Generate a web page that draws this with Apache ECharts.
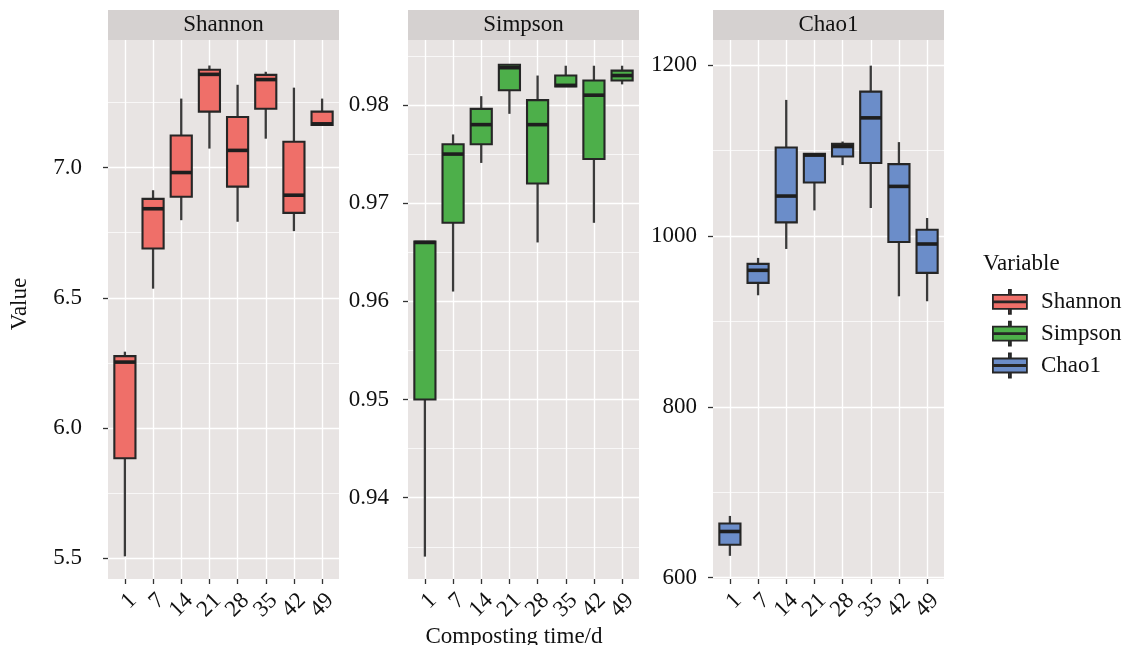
<!DOCTYPE html>
<html>
<head>
<meta charset="utf-8">
<script src="https://cdn.jsdelivr.net/npm/echarts@6/dist/echarts.min.js"></script>
<style>html,body{margin:0;padding:0;background:#fff}#c{width:1126px;height:645px}</style>
</head>
<body>
<div id="c"></div>
<script>
// ---- data ----
const categories = ['1', '7', '14', '21', '28', '35', '42', '49'];
const variables = ['Shannon', 'Simpson', 'Chao1'];
// each row: [lower whisker, Q1, median, Q3, upper whisker]
const shannon = [
  [5.507, 5.884, 6.253, 6.276, 6.293],
  [6.535, 6.689, 6.842, 6.880, 6.913],
  [6.798, 6.888, 6.981, 7.123, 7.265],
  [7.073, 7.215, 7.358, 7.376, 7.392],
  [6.792, 6.927, 7.066, 7.194, 7.318],
  [7.111, 7.226, 7.338, 7.356, 7.368],
  [6.756, 6.826, 6.894, 7.099, 7.307],
  [7.164, 7.164, 7.168, 7.215, 7.265]
];
const simpson = [
  [0.9340, 0.9500, 0.9660, 0.9661, 0.9661],
  [0.9610, 0.9680, 0.9750, 0.9760, 0.9770],
  [0.9741, 0.9760, 0.9780, 0.9796, 0.9809],
  [0.9791, 0.9815, 0.9838, 0.9841, 0.9841],
  [0.9660, 0.9720, 0.9780, 0.9805, 0.9830],
  [0.9819, 0.9819, 0.9820, 0.9830, 0.9840],
  [0.9680, 0.9745, 0.9810, 0.9825, 0.9840],
  [0.9821, 0.9825, 0.9830, 0.9835, 0.9840]
];
const chao1 = [
  [625.6, 638.5, 654.1, 663.4, 672.3],
  [930.5, 945.0, 959.7, 967.2, 974.2],
  [984.7, 1015.8, 1046.6, 1103.4, 1159.1],
  [1029.8, 1062.5, 1094.5, 1096.0, 1097.0],
  [1082.8, 1092.9, 1104.6, 1107.7, 1110.4],
  [1032.6, 1085.2, 1138.1, 1168.8, 1199.2],
  [929.3, 992.9, 1057.9, 1084.0, 1109.7],
  [923.5, 956.7, 990.5, 1007.2, 1020.9]
];
const shannonTicks = [5.5, 6.0, 6.5, 7.0];
const shannonMinor = [5.75, 6.25, 6.75, 7.25];
const simpsonTicks = [0.94, 0.95, 0.96, 0.97, 0.98];
const simpsonMinor = [0.935, 0.945, 0.955, 0.965, 0.975, 0.985];
const chao1Ticks = [600, 800, 1000, 1200];
const chao1Minor = [700, 900, 1100];
const yRanges = [[5.42, 7.49], [0.93172, 0.98662], [598.5, 1229.2]];
const colors = ['#EF6F69', '#4DAF4A', '#6B8DC9'];
const xTitle = 'Composting time/d';
const yTitle = 'Value';
const legendTitle = 'Variable';

// ---- layout / style ----
const FONT = 'Liberation Serif';
const FS = 23;
const panelLefts = [108, 408, 713];
const PW = 231, PT = 40, PH = 539;
const labelMargins = [26, 19, 16];
const BORDER = '#262626';
const TXT = '#111111';
const datasets = [shannon, simpson, chao1];
const majors = [shannonTicks, simpsonTicks, chao1Ticks];
const minors = [shannonMinor, simpsonMinor, chao1Minor];
const xIdx = categories.map((c, i) => i + 1);
const xOdd = xIdx.filter(v => v % 2 === 1);
const xEven = xIdx.filter(v => v % 2 === 0);

const grid = [], xAxis = [], yAxis = [], series = [], graphic = [];
const xLabelStyle = (vals) => ({customValues: vals, formatter: v => categories[Math.round(v) - 1] || '', rotate: 45, margin: 10,
  verticalAlign: 'top', showMaxLabel: true, showMinLabel: true, fontFamily: FONT, fontSize: FS, color: TXT});
panelLefts.forEach((left, p) => {
  grid.push({left: left, top: PT, width: PW, height: PH, show: true, backgroundColor: '#E8E4E3', borderWidth: 0});
  // x axis: ticks, grid lines and odd labels
  xAxis.push({
    type: 'value', gridIndex: p, min: 0.4, max: 8.6,
    axisLine: {show: false},
    axisTick: {show: true, customValues: xIdx, length: 5, lineStyle: {color: '#333', width: 1.3}},
    axisLabel: xLabelStyle(xOdd),
    splitLine: {show: true, lineStyle: {color: '#ffffff', width: 1.4}}
  });
  // companion x axis: even labels
  xAxis.push({
    type: 'value', gridIndex: p, min: 0.4, max: 8.6, position: 'bottom',
    axisLine: {show: false},
    axisTick: {show: false, customValues: xEven},
    axisLabel: xLabelStyle(xEven),
    splitLine: {show: false}
  });
  const [mn, mx] = yRanges[p];
  yAxis.push({
    type: 'value', gridIndex: p, min: mn, max: mx,
    axisLine: {show: false},
    axisTick: {show: true, customValues: majors[p], length: 5, lineStyle: {color: '#333', width: 1.3}},
    axisLabel: {customValues: majors[p], margin: labelMargins[p], fontFamily: FONT, fontSize: FS, color: TXT,
      formatter: v => p === 0 ? v.toFixed(1) : (p === 1 ? v.toFixed(2) : String(Math.round(v)))},
    splitLine: {show: true, lineStyle: {color: '#ffffff', width: 1.4}},
    z: 1
  });
  yAxis.push({
    type: 'value', gridIndex: p, min: mn, max: mx, position: 'left',
    axisLine: {show: false},
    axisTick: {show: false, customValues: minors[p]},
    axisLabel: {show: false, customValues: minors[p]},
    splitLine: {show: true, lineStyle: {color: '#ffffff', width: 0.7}},
    z: 0
  });
  const fill = colors[p];
  series.push({
    name: variables[p], type: 'custom', xAxisIndex: p * 2, yAxisIndex: p * 2,
    itemStyle: {color: fill, borderColor: BORDER, borderWidth: 2},
    encode: {x: 0, y: [1, 2, 3, 4, 5]},
    data: datasets[p].map((d, i) => [i + 1].concat(d)),
    renderItem: function (params, api) {
      const x = api.value(0);
      const lo = api.coord([x, api.value(1)]);
      const q1 = api.coord([x, api.value(2)]);
      const md = api.coord([x, api.value(3)]);
      const q3 = api.coord([x, api.value(4)]);
      const hi = api.coord([x, api.value(5)]);
      const w = api.size([0.75, 0])[0];
      const cx = lo[0];
      return {
        type: 'group',
        children: [
          {type: 'line', shape: {x1: cx, y1: lo[1], x2: cx, y2: q1[1]}, style: {stroke: '#3a3a3a', lineWidth: 2.3}},
          {type: 'line', shape: {x1: cx, y1: q3[1], x2: cx, y2: hi[1]}, style: {stroke: '#3a3a3a', lineWidth: 2.3}},
          {type: 'rect', shape: {x: cx - w / 2, y: q3[1], width: w, height: Math.max(q1[1] - q3[1], 0.5)},
            style: {fill: fill, stroke: BORDER, lineWidth: 2.1}},
          {type: 'line', shape: {x1: cx - w / 2, y1: md[1], x2: cx + w / 2, y2: md[1]}, style: {stroke: '#1e1e1e', lineWidth: 3.6}}
        ]
      };
    }
  });
  graphic.push({type: 'rect', left: left, top: 10, shape: {width: PW, height: 30}, style: {fill: '#D5D1D0'}, silent: true});
  graphic.push({type: 'text', x: left + PW / 2, y: 25, style: {text: variables[p], font: FS + 'px "' + FONT + '"', fill: TXT,
    textAlign: 'center', textVerticalAlign: 'middle'}});
});

graphic.push({type: 'text', x: 20, y: 304, rotation: Math.PI / 2, style: {text: yTitle, font: FS + 'px "' + FONT + '"', fill: TXT,
  textAlign: 'center', textVerticalAlign: 'middle'}});
graphic.push({type: 'text', x: 514, y: 637, style: {text: xTitle, font: FS + 'px "' + FONT + '"', fill: TXT,
  textAlign: 'center', textVerticalAlign: 'middle'}});
graphic.push({type: 'text', x: 983, y: 264, style: {text: legendTitle, font: FS + 'px "' + FONT + '"', fill: TXT,
  textAlign: 'left', textVerticalAlign: 'middle'}});

const keyIcon = 'path://M17 0H19V5H17Z M1 5H35V19H1Z M1 11.5H35V12.5H1Z M17 19H19V24H17Z';

const option = {
  animation: false,
  grid: grid, xAxis: xAxis, yAxis: yAxis, series: series, graphic: graphic,
  legend: {
    orient: 'vertical', left: 987, top: 284, itemWidth: 36, itemHeight: 24, itemGap: 6,
    textStyle: {fontFamily: FONT, fontSize: FS, color: TXT, padding: [0, 0, 0, 8]},
    data: variables.map((v, i) => ({name: v, icon: keyIcon,
      itemStyle: {color: colors[i], borderColor: BORDER, borderWidth: 1.8}}))
  }
};
const chart = echarts.init(document.getElementById('c'), null, {renderer: 'canvas'});
chart.setOption(option);
</script>
</body>
</html>
